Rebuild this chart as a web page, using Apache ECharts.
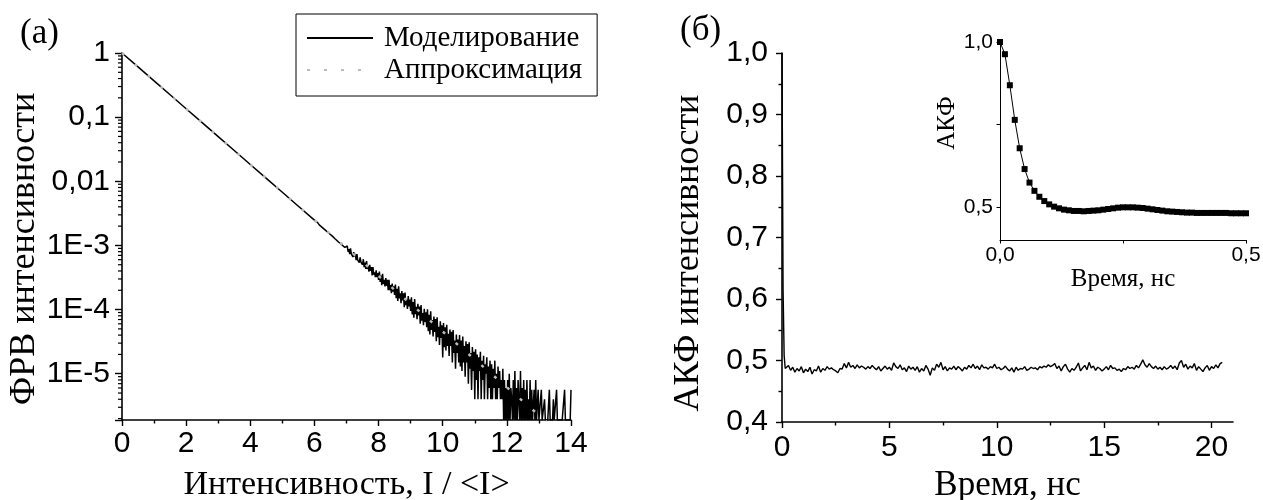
<!DOCTYPE html>
<html><head><meta charset="utf-8">
<script src="https://cdn.jsdelivr.net/npm/echarts@6/dist/echarts.min.js"></script>
<style>html,body{margin:0;padding:0;background:#fff}#c{width:1263px;height:500px}</style>
</head><body><div id="c"></div>
<script>
// ---------- data: panel (а) ----------
const simHeadX = [0,0.5,1,1.5,2,2.5,3,3.5,4,4.5,5,5.5,6];
const simHeadY = [1,0.607,0.368,0.223,0.135,0.0821,0.0498,0.0302,0.0183,0.0111,0.00674,0.00409,0.00248];
const simMidStart = 6.05, simMidStep = 0.05;
const simMidY = [2.33e-3,2.27e-3,2.09e-3,2.06e-3,1.90e-3,1.87e-3,1.72e-3,1.70e-3,1.55e-3,1.53e-3,1.41e-3,1.39e-3,1.26e-3,1.31e-3,1.13e-3,1.14e-3,1.03e-3,1.04e-3,9.3e-4,9.2e-4];
const simTailStart = 7.025, simTailStep = 0.025;
const simTailY = [
 9.8e-4,7.9e-4,8.8e-4,7.3e-4,9.0e-4,7.4e-4,7.8e-4,6.6e-4,7.9e-4,6.7e-4,7.4e-4,5.9e-4,7.3e-4,5.9e-4,6.3e-4,5.4e-4,6.5e-4,5.5e-4,5.9e-4,5.0e-4,
 6.1e-4,4.6e-4,5.4e-4,4.3e-4,5.7e-4,4.3e-4,4.8e-4,3.9e-4,5.0e-4,4.0e-4,4.6e-4,3.4e-4,4.6e-4,3.5e-4,3.8e-4,3.2e-4,4.1e-4,3.2e-4,3.7e-4,2.9e-4,
 3.9e-4,2.7e-4,3.4e-4,2.4e-4,3.6e-4,2.5e-4,2.9e-4,2.3e-4,3.1e-4,2.35e-4,2.9e-4,2.0e-4,2.9e-4,2.0e-4,2.4e-4,1.8e-4,2.55e-4,1.9e-4,2.3e-4,1.7e-4,
 2.45e-4,1.5e-4,2.1e-4,1.36e-4,2.3e-4,1.5e-4,1.8e-4,1.26e-4,1.95e-4,1.39e-4,1.79e-4,1.09e-4,1.85e-4,1.17e-4,1.44e-4,1.02e-4,1.62e-4,1.12e-4,1.44e-4,9.5e-5,
 1.56e-4,8.4e-5,1.31e-4,7.5e-5,1.46e-4,8.5e-5,1.11e-4,7.1e-5,1.23e-4,8.1e-5,1.12e-4,6.0e-5,1.18e-4,6.7e-5,8.8e-5,5.7e-5,1.03e-4,6.4e-5,9.1e-5,5.3e-5,
 1.01e-4,4.6e-5,8.3e-5,4.1e-5,9.4e-5,4.8e-5,6.9e-5,3.8e-5,7.8e-5,4.5e-5,7.1e-5,3.2e-5,7.6e-5,3.7e-5,5.4e-5,2.8e-5,6.6e-5,3.6e-5,5.7e-5,1.8e-5,
 6.2e-5,2.6e-5,5.3e-5,2.3e-5,5.8e-5,2.7e-5,4.2e-5,1.9e-5,4.9e-5,2.7e-5,4.5e-5,1.5e-5,4.8e-5,2.1e-5,3.3e-5,1.2e-5,4.1e-5,2.1e-5,3.4e-5,1.5e-5,
 4.0e-5,1.3e-5,3.3e-5,1.1e-5,3.8e-5,1.5e-5,2.7e-5,9e-6,3.2e-5,1.5e-5,2.9e-5,7e-6,3.1e-5,1.2e-5,2.1e-5,5.6e-6,2.6e-5,1.1e-5,2.2e-5,4e-6,
 2.4e-5,8e-6,2.0e-5,4e-6,1.8e-5,1.1e-5,2.2e-5,4e-6,1.6e-5,8e-6,1.9e-5,4e-6,1.4e-5,1.0e-5,1.8e-5,4e-6,1.3e-5,6e-6,1.6e-5,4e-6,
 1.4e-5,4e-6,1.2e-5,6e-6,1.6e-5,4e-6,1.0e-5,4e-6,1.3e-5,6e-6,1.1e-5,4e-6,8e-6,4e-6,1.2e-5,1.9e-6,8e-6,1.9e-6,6e-6,1.9e-6,
 8e-6,1.9e-6,1.0e-5,1.9e-6,6e-6,4e-6,1.9e-6,8e-6,1.9e-6,1.1e-5,1.9e-6,6e-6,1.9e-6,8e-6,4e-6,1.9e-6,1.1e-5,1.9e-6,6e-6,1.9e-6,
 8e-6,1.9e-6,5.6e-6,1.9e-6,8e-6,1.9e-6,4e-6,1.9e-6,8e-6,1.9e-6,5.6e-6,1.9e-6,1.9e-6,5.6e-6,1.9e-6,8e-6,1.9e-6,1.9e-6,5.6e-6,1.9e-6,
 1.9e-6,1.9e-6,5.6e-6,1.9e-6,1.9e-6,1.9e-6,4e-6,1.9e-6,1.9e-6,1.9e-6,1.9e-6,1.9e-6,5.6e-6,1.9e-6,1.9e-6,1.9e-6,1.9e-6,4e-6,1.9e-6,1.9e-6,
 1.9e-6,5.6e-6,1.9e-6,1.9e-6,1.9e-6,1.9e-6,1.9e-6,1.9e-6,1.9e-6,1.9e-6,1.9e-6,5.6e-6,1.9e-6,1.9e-6,1.9e-6,1.9e-6,1.9e-6,1.9e-6,1.9e-6,5.6e-6
];
const approxX = [0,1,2,3,4,5,6,7,8,9,10,11,12,13,14];
const approxY = [1,0.368,0.135,0.0498,0.0183,0.00674,0.00248,9.12e-4,3.35e-4,1.23e-4,4.54e-5,1.67e-5,6.14e-6,2.26e-6,8.3e-7];
const leftXTicks = [0,2,4,6,8,10,12,14];
const leftXLabels = ['0','2','4','6','8','10','12','14'];
const leftYTicks = [1e-5,1e-4,1e-3,0.01,0.1,1];
const leftYLabels = ['1E-5','1E-4','1E-3','0,01','0,1','1'];
const logMinorTicks = [
 2e-6,3e-6,4e-6,5e-6,6e-6,7e-6,8e-6,9e-6,
 2e-5,3e-5,4e-5,5e-5,6e-5,7e-5,8e-5,9e-5,
 2e-4,3e-4,4e-4,5e-4,6e-4,7e-4,8e-4,9e-4,
 2e-3,3e-3,4e-3,5e-3,6e-3,7e-3,8e-3,9e-3,
 0.02,0.03,0.04,0.05,0.06,0.07,0.08,0.09,
 0.2,0.3,0.4,0.5,0.6,0.7,0.8,0.9
];

// ---------- data: panel (б) ----------
const acfHeadT = [0,0.05,0.1,0.15,0.2];
const acfHeadV = [1.0,0.615,0.508,0.487,0.489];
const acfTailStart = 0.3, acfTailStep = 0.1;
const acfTailV = [
 0.492,0.484,0.489,0.481,0.487,0.483,0.490,0.480,0.486,0.482,0.489,0.478,0.485,0.483,0.491,0.481,0.487,0.484,
 0.490,0.486,0.488,0.485,0.483,0.480,0.487,0.486,0.495,0.488,0.497,0.489,0.492,0.487,0.493,0.488,0.491,0.489,0.486,0.490,
 0.487,0.492,0.488,0.485,0.490,0.483,0.487,0.491,0.486,0.489,0.484,0.496,0.490,0.487,0.493,0.485,0.488,0.482,0.491,0.486,
 0.489,0.484,0.490,0.481,0.487,0.483,0.492,0.486,0.476,0.488,0.484,0.494,0.489,0.497,0.485,0.490,0.483,0.488,0.486,0.491,
 0.485,0.490,0.487,0.483,0.489,0.486,0.492,0.488,0.494,0.487,0.491,0.485,0.493,0.488,0.489,0.486,0.490,0.488,0.494,0.487,
 0.489,0.485,0.487,0.491,0.486,0.483,0.488,0.481,0.489,0.484,0.487,0.486,0.490,0.484,0.486,0.489,0.487,0.488,0.485,0.490,
 0.488,0.491,0.489,0.493,0.490,0.492,0.495,0.487,0.491,0.483,0.490,0.494,0.486,0.481,0.487,0.484,0.489,0.496,0.483,0.488,
 0.492,0.485,0.497,0.488,0.491,0.484,0.489,0.487,0.483,0.486,0.490,0.485,0.492,0.487,0.488,0.484,0.486,0.482,0.487,0.485,
 0.490,0.487,0.489,0.486,0.492,0.488,0.494,0.501,0.493,0.489,0.495,0.490,0.487,0.491,0.486,0.489,0.485,0.490,0.486,0.488,
 0.492,0.487,0.491,0.485,0.496,0.500,0.489,0.494,0.486,0.491,0.488,0.495,0.484,0.490,0.486,0.482,0.488,0.492,0.484,0.490,0.487,0.493,0.488,0.495,0.497
];
const insetStep = 0.01;
const insetV = [
 1.000,0.963,0.869,0.764,0.678,0.615,0.574,0.549,0.531,0.518,
 0.508,0.501,0.496,0.492,0.490,0.488,0.488,0.487,0.488,0.489,
 0.490,0.492,0.494,0.496,0.498,0.499,0.499,0.499,0.498,0.497,
 0.495,0.493,0.491,0.489,0.487,0.486,0.485,0.484,0.483,0.483,
 0.482,0.482,0.482,0.482,0.482,0.482,0.482,0.481,0.481,0.481,0.481
];
const rightXTicks = [0,5,10,15,20];
const rightXLabels = ['0','5','10','15','20'];
const rightXMinor = [2.5,7.5,12.5,17.5];
const rightYTicks = [0.4,0.5,0.6,0.7,0.8,0.9,1.0];
const rightYLabels = ['0,4','0,5','0,6','0,7','0,8','0,9','1,0'];
const insetXTicks = [0,0.5];
const insetXLabels = ['0,0','0,5'];
const insetYTicks = [0.5,1.0];
const insetYLabels = ['0,5','1,0'];
const insetYTickMarks = [0.5,0.75,1.0];

// ---------- build ----------
const simData = simHeadX.map((x,i)=>[x,simHeadY[i]])
  .concat(simMidY.map((v,i)=>[+(simMidStart+i*simMidStep).toFixed(3), v]))
  .concat(simTailY.map((v,i)=>[+(simTailStart+i*simTailStep).toFixed(3), v]));
const approxData = approxX.map((x,i)=>[x,approxY[i]]);
const acfData = acfHeadT.map((t,i)=>[t,acfHeadV[i]])
  .concat(acfTailV.map((v,i)=>[+(acfTailStart+i*acfTailStep).toFixed(2), v]));
const insetData = insetV.map((v,i)=>[+(i*insetStep).toFixed(2), v]);

function lookup(vals, labs){
  return function(v){
    for (let i=0;i<vals.length;i++){
      if (Math.abs(vals[i]-v) <= 1e-6*Math.max(Math.abs(vals[i]),1e-12)) return labs[i];
    }
    return '';
  };
}
const SANS='Liberation Sans', SERIF='Liberation Serif';
const AL = {show:true, onZero:false, lineStyle:{color:'#000', width:1.6}};
const tickStyle = {color:'#000', width:1.4};

const chart = echarts.init(document.getElementById('c'), null, {renderer:'canvas'});
chart.setOption({
  animation:false,
  backgroundColor:'#fff',
  grid:[
    {left:122, top:53, width:449, height:367, outerBoundsMode:'none'},
    {left:782, top:53, width:451, height:369, outerBoundsMode:'none'},
    {left:1000, top:42, width:246, height:198, outerBoundsMode:'none'}
  ],
  legend:{
    data:['Моделирование','Аппроксимация'],
    orient:'vertical', left:296, top:14,
    itemWidth:66, itemHeight:14, itemGap:2,
    padding:[9,15,11,10],
    borderColor:'#000', borderWidth:1, borderRadius:0,
    itemStyle:{opacity:0},
    textStyle:{fontFamily:SERIF, fontSize:29, color:'#000', lineHeight:30, padding:[0,0,0,6]}
  },
  graphic:[
    {type:'text', left:20, top:16, style:{text:'(а)', font:'35px "Liberation Serif"', fill:'#000'}},
    {type:'text', left:680, top:13, style:{text:'(б)', font:'35px "Liberation Serif"', fill:'#000'}}
  ],
  xAxis:[
    {gridIndex:0, type:'value', min:0, max:14, interval:2, position:'bottom',
     axisLine:AL, splitLine:{show:false},
     axisTick:{show:true, length:6, lineStyle:tickStyle},
     minorTick:{show:true, splitNumber:2, length:3.5, lineStyle:tickStyle},
     axisLabel:{fontFamily:SANS, fontSize:30, color:'#000', margin:9, formatter:lookup(leftXTicks,leftXLabels)},
     name:'Интенсивность, I / <I>', nameLocation:'middle', nameGap:48,
     nameTextStyle:{fontFamily:SERIF, fontSize:34, color:'#000'}},
    {gridIndex:1, type:'value', min:0, max:21, position:'bottom',
     axisLine:AL, splitLine:{show:false},
     axisTick:{show:true, length:6, lineStyle:tickStyle, customValues:rightXTicks},
     axisLabel:{fontFamily:SANS, fontSize:30, color:'#000', margin:11, customValues:rightXTicks, formatter:lookup(rightXTicks,rightXLabels)},
     name:'Время, нс', nameLocation:'middle', nameGap:45,
     nameTextStyle:{fontFamily:SERIF, fontSize:35, color:'#000'}},
    {gridIndex:1, type:'value', min:0, max:21, position:'bottom',
     axisLine:{show:false}, splitLine:{show:false}, axisLabel:{show:false},
     axisTick:{show:true, length:3.5, lineStyle:tickStyle, customValues:rightXMinor}},
    {gridIndex:2, type:'value', min:0, max:0.5, interval:0.25, position:'bottom',
     axisLine:{show:true, onZero:false, lineStyle:{color:'#000', width:1}}, splitLine:{show:false},
     axisTick:{show:true, length:3.5, lineStyle:{color:'#000', width:1}},
     axisLabel:{fontFamily:SANS, fontSize:21, color:'#000', margin:5, customValues:insetXTicks, formatter:lookup(insetXTicks,insetXLabels)},
     name:'Время, нс', nameLocation:'middle', nameGap:17,
     nameTextStyle:{fontFamily:SERIF, fontSize:25, color:'#000'}}
  ],
  yAxis:[
    {gridIndex:0, type:'log', logBase:10, min:1.9e-6, max:1, position:'left',
     axisLine:AL, splitLine:{show:false},
     axisTick:{show:true, length:7, lineStyle:tickStyle},
     axisLabel:{fontFamily:SANS, fontSize:30, color:'#000', margin:12, formatter:lookup(leftYTicks,leftYLabels)},
     name:'ФРВ интенсивности', nameLocation:'middle', nameGap:76,
     nameTextStyle:{fontFamily:SERIF, fontSize:36, color:'#000', padding:[0,25,0,0]}},
    {gridIndex:1, type:'value', min:0.4, max:1.0, interval:0.1, position:'left',
     axisLine:AL, splitLine:{show:false},
     axisTick:{show:true, length:6, lineStyle:tickStyle},
     minorTick:{show:true, splitNumber:2, length:3.5, lineStyle:tickStyle},
     axisLabel:{fontFamily:SANS, fontSize:30, color:'#000', margin:14, formatter:lookup(rightYTicks,rightYLabels)},
     name:'АКФ интенсивности', nameLocation:'middle', nameGap:75,
     nameTextStyle:{fontFamily:SERIF, fontSize:36, color:'#000', padding:[0,31,0,0]}},
    {gridIndex:2, type:'value', min:0.4, max:1.0, position:'left',
     axisLine:{show:true, onZero:false, lineStyle:{color:'#000', width:1}}, splitLine:{show:false},
     axisTick:{show:true, length:3.5, lineStyle:{color:'#000', width:1}, customValues:insetYTickMarks},
     axisLabel:{fontFamily:SANS, fontSize:21, color:'#000', margin:7, customValues:insetYTicks, formatter:lookup(insetYTicks,insetYLabels)},
     name:'АКФ', nameLocation:'middle', nameGap:26,
     nameTextStyle:{fontFamily:SERIF, fontSize:25, color:'#000', padding:[0,0,0,36]}}
  ],
  series:[
    {name:'Моделирование', type:'line', xAxisIndex:0, yAxisIndex:0, data:simData,
     symbol:'none', clip:true, z:2,
     lineStyle:{color:'#000', width:1.5}, itemStyle:{color:'#000'}},
    {name:'Аппроксимация', type:'line', xAxisIndex:0, yAxisIndex:0, data:approxData,
     symbol:'none', clip:true, z:3,
     lineStyle:{color:'#bbbbbb', width:2.5, type:[3,14]}, itemStyle:{color:'#bbbbbb'}},
    {type:'custom', xAxisIndex:0, yAxisIndex:0, silent:true, z:5, clip:false,
     data:logMinorTicks.map(v=>[0,v]),
     renderItem:function(params, api){
       const p = api.coord([api.value(0), api.value(1)]);
       return {type:'line', shape:{x1:p[0]-4, y1:p[1], x2:p[0], y2:p[1]}, style:{stroke:'#000', lineWidth:1.2}};
     }},
    {name:'АКФ', type:'line', xAxisIndex:1, yAxisIndex:1, data:acfData,
     symbol:'none', clip:true, lineStyle:{color:'#000', width:1.4}},
    {name:'АКФ (вставка)', type:'line', xAxisIndex:3, yAxisIndex:2, data:insetData,
     symbol:'rect', symbolSize:6, showSymbol:true, clip:true,
     itemStyle:{color:'#000'}, lineStyle:{color:'#000', width:1}}
  ]
});
</script></body></html>
